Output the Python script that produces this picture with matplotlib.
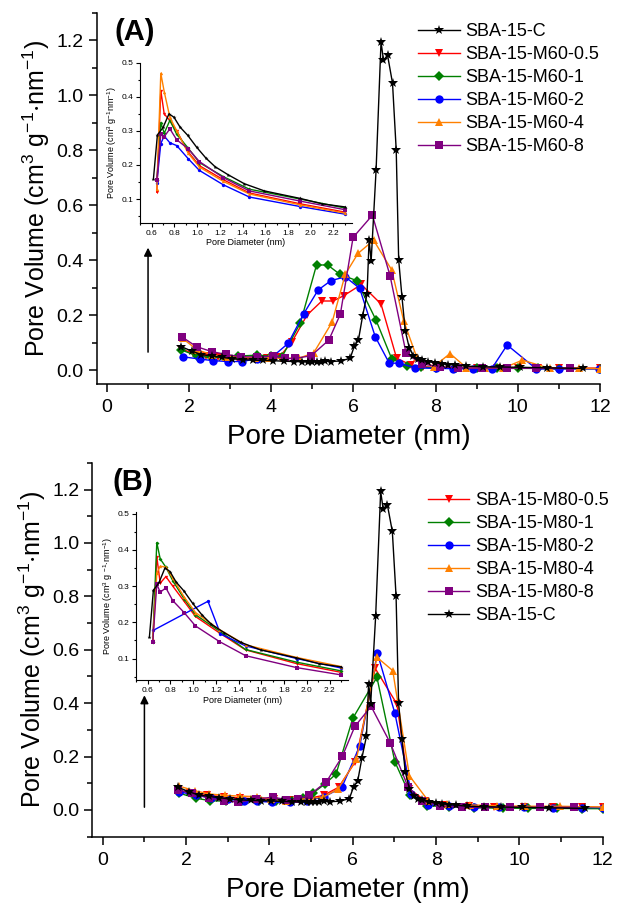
import matplotlib

matplotlib.use("Agg")
import matplotlib.pyplot as plt
from matplotlib.ticker import MultipleLocator

plt.rcParams["font.family"] = ["Liberation Sans", "DejaVu Sans"]
plt.rcParams["mathtext.default"] = "regular"

# ---- panel (A): main curves -------------------------------------------------
C_X = [1.81, 2.06, 2.3, 2.55, 2.8, 3.05, 3.3, 3.55, 3.8, 4.05, 4.3, 4.55, 4.75,
       4.9, 5.0, 5.1, 5.2, 5.3, 5.45, 5.7, 5.92, 6.02, 6.12, 6.22, 6.33, 6.38,
       6.43, 6.55, 6.67, 6.73, 6.83, 6.95, 7.04, 7.10, 7.18, 7.26, 7.36, 7.46,
       7.56, 7.66, 7.82, 7.99, 8.15, 8.31, 8.47, 8.75, 9.15, 9.56, 10.05, 10.7,
       11.58]
C_Y = [0.085, 0.069, 0.056, 0.051, 0.046, 0.041, 0.038, 0.036, 0.035, 0.034,
       0.032, 0.031, 0.03, 0.03, 0.029, 0.03, 0.031, 0.032, 0.031, 0.033, 0.043,
       0.087, 0.109, 0.195, 0.277, 0.473, 0.397, 0.727, 1.193, 1.127, 1.144,
       1.043, 0.80, 0.40, 0.266, 0.143, 0.079, 0.051, 0.041, 0.037, 0.031, 0.026,
       0.023, 0.02, 0.018, 0.014, 0.012, 0.011, 0.01, 0.008, 0.006]

A_05_X = [1.8, 2.1, 2.4, 2.7, 3.0, 3.3, 3.6, 3.9, 4.2, 4.5, 4.87, 5.23, 5.5,
          5.76, 6.19, 6.67, 7.05, 7.4, 7.7, 8.0, 8.5, 9.0, 9.5, 10.0, 10.5,
          11.0, 12.0]
A_05_Y = [0.077, 0.061, 0.051, 0.046, 0.041, 0.041, 0.041, 0.043, 0.048, 0.102,
          0.2, 0.251, 0.251, 0.27, 0.311, 0.24, 0.043, 0.018, 0.012, 0.01,
          0.009, 0.008, 0.008, 0.008, 0.008, 0.007, 0.007]

A_1_X = [1.81, 2.2, 2.52, 2.85, 3.2, 3.66, 4.0, 4.26, 4.71, 5.1, 5.37, 5.67,
         6.08, 6.55, 6.93, 7.3, 7.65, 8.0, 8.5, 9.0, 9.5, 10.0, 10.5, 11.0, 12.0]
A_1_Y = [0.073, 0.051, 0.046, 0.046, 0.051, 0.054, 0.051, 0.048, 0.172, 0.382,
         0.382, 0.348, 0.325, 0.181, 0.041, 0.014, 0.01, 0.008, 0.007, 0.007,
         0.006, 0.006, 0.006, 0.005, 0.005]

A_2_X = [1.85, 2.26, 2.58, 2.95, 3.29, 3.65, 4.05, 4.41, 4.79, 5.14, 5.45, 5.8,
         6.15, 6.53, 6.87, 7.1, 7.5, 8.0, 8.43, 8.9, 9.36, 9.74, 10.45, 11.0,
         11.97]
A_2_Y = [0.048, 0.04, 0.034, 0.031, 0.031, 0.041, 0.051, 0.097, 0.205, 0.291,
         0.325, 0.339, 0.297, 0.121, 0.025, 0.025, 0.008, 0.006, 0.005, 0.004,
         0.004, 0.091, 0.004, 0.004, 0.004]

A_4_X = [1.84, 2.2, 2.55, 2.9, 3.25, 3.6, 3.95, 4.3, 4.67, 5.03, 5.48, 5.8,
         6.11, 6.49, 6.93, 7.22, 7.54, 7.95, 8.35, 8.75, 9.2, 9.65, 10.11,
         10.78, 11.5, 12.0]
A_4_Y = [0.115, 0.073, 0.056, 0.049, 0.046, 0.044, 0.043, 0.043, 0.043, 0.062,
         0.174, 0.348, 0.424, 0.472, 0.364, 0.18, 0.046, 0.012, 0.06, 0.008,
         0.007, 0.007, 0.036, 0.006, 0.006, 0.005]

A_8_X = [1.82, 2.18, 2.55, 2.89, 3.27, 3.66, 4.05, 4.33, 4.57, 4.97, 5.4, 5.68,
         5.99, 6.46, 6.89, 7.28, 7.66, 8.1, 8.55, 9.12, 9.73, 10.45, 11.26]
A_8_Y = [0.121, 0.085, 0.067, 0.057, 0.048, 0.048, 0.051, 0.042, 0.042, 0.052,
         0.109, 0.203, 0.482, 0.563, 0.343, 0.061, 0.022, 0.012, 0.008, 0.007,
         0.007, 0.006, 0.006]

# ---- panel (A): inset (micropore region) ------------------------------------
C_IN_X = [0.615, 0.65, 0.70, 0.752, 0.796, 0.85, 0.917, 0.996, 1.078, 1.158,
          1.275, 1.416, 1.592, 1.907, 2.103, 2.303]
C_IN_Y = [0.159, 0.288, 0.31, 0.35, 0.34, 0.311, 0.287, 0.252, 0.22, 0.195,
          0.171, 0.145, 0.124, 0.102, 0.086, 0.077]
IN_X = [0.645, 0.68, 0.71, 0.76, 0.82, 0.92, 1.02, 1.23, 1.46, 1.91, 2.3]
A_05_IN = [0.12, 0.418, 0.35, 0.33, 0.30, 0.239, 0.198, 0.157, 0.118, 0.086, 0.062]
A_1_IN = [0.155, 0.324, 0.293, 0.331, 0.29, 0.25, 0.207, 0.166, 0.129, 0.1, 0.074]
A_2_IN = [0.148, 0.263, 0.285, 0.265, 0.257, 0.219, 0.184, 0.142, 0.106, 0.078, 0.056]
A_4_IN = [0.13, 0.469, 0.415, 0.34, 0.30, 0.235, 0.194, 0.152, 0.115, 0.083, 0.059]
A_8_IN = [0.155, 0.29, 0.283, 0.306, 0.274, 0.248, 0.21, 0.163, 0.124, 0.094, 0.069]

# ---- panel (B): main curves -------------------------------------------------
B_05_X = [1.8, 2.1, 2.5, 2.9, 3.3, 3.7, 4.1, 4.5, 4.9, 5.3, 5.66, 6.06, 6.54,
          7.06, 7.35, 7.74, 8.2, 8.8, 9.4, 10.1, 10.8, 11.5, 12.0]
B_05_Y = [0.075, 0.063, 0.055, 0.05, 0.045, 0.042, 0.04, 0.038, 0.042, 0.055,
          0.085, 0.18, 0.53, 0.397, 0.08, 0.035, 0.02, 0.015, 0.012, 0.012,
          0.011, 0.011, 0.01]

B_1_X = [1.84, 2.24, 2.57, 2.95, 3.35, 3.75, 4.15, 4.55, 4.8, 5.05, 5.33, 5.6,
         6.0, 6.58, 7.01, 7.37, 7.77, 8.3, 8.9, 9.6, 10.2, 10.9, 11.5, 12.0]
B_1_Y = [0.063, 0.044, 0.035, 0.033, 0.032, 0.033, 0.032, 0.035, 0.045, 0.064,
         0.097, 0.135, 0.343, 0.497, 0.181, 0.056, 0.016, 0.012, 0.008, 0.007,
         0.006, 0.006, 0.005, 0.005]

B_2_X = [1.84, 2.24, 2.6, 3.0, 3.4, 3.7, 4.06, 4.5, 4.9, 5.3, 5.74, 6.17, 6.59,
         7.01, 7.41, 7.8, 8.3, 8.9, 9.5, 10.1, 10.8, 11.5, 12.0]
B_2_Y = [0.068, 0.055, 0.045, 0.04, 0.035, 0.033, 0.029, 0.03, 0.035, 0.048,
         0.085, 0.241, 0.588, 0.363, 0.06, 0.02, 0.015, 0.012, 0.01, 0.01,
         0.009, 0.009, 0.009]

B_4_X = [1.84, 2.21, 2.56, 2.93, 3.3, 3.71, 4.05, 4.4, 4.7, 5.01, 5.29, 5.65,
         6.09, 6.58, 6.96, 7.36, 7.81, 8.26, 8.81, 9.46, 10.13, 10.97, 12.0]
B_4_Y = [0.089, 0.072, 0.06, 0.055, 0.052, 0.05, 0.04, 0.035, 0.04, 0.044,
         0.048, 0.079, 0.191, 0.572, 0.522, 0.128, 0.035, 0.022, 0.019, 0.016,
         0.014, 0.014, 0.011]

B_8_X = [1.8, 2.15, 2.56, 2.91, 3.25, 3.68, 4.08, 4.4, 4.69, 4.96, 5.37, 5.75,
         6.05, 6.44, 6.9, 7.33, 7.66, 8.1, 8.62, 9.17, 9.77, 10.5, 11.3]
B_8_Y = [0.075, 0.063, 0.044, 0.035, 0.029, 0.041, 0.048, 0.039, 0.041, 0.056,
         0.106, 0.201, 0.313, 0.388, 0.251, 0.085, 0.035, 0.016, 0.01, 0.01,
         0.01, 0.01, 0.01]

# ---- panel (B): inset -------------------------------------------------------
B_05_IN = [0.149, 0.381, 0.308, 0.326, 0.3, 0.258, 0.216, 0.171, 0.124, 0.086, 0.062]
B_1_IN = [0.147, 0.42, 0.375, 0.352, 0.315, 0.265, 0.221, 0.176, 0.125, 0.09, 0.066]
B_4_IN = [0.152, 0.335, 0.355, 0.352, 0.322, 0.27, 0.227, 0.18, 0.138, 0.103, 0.078]
B_8_IN = [0.147, 0.305, 0.283, 0.295, 0.26, 0.227, 0.19, 0.147, 0.108, 0.075, 0.055]
B_2_IN_X = [0.65, 1.13, 1.24, 1.46, 1.91, 2.3]
B_2_IN = [0.178, 0.258, 0.168, 0.135, 0.1, 0.074]

RED, GREEN, BLUE, ORANGE, PURPLE = "#ff0000", "#008000", "#0000ff", "#ff8000", "#800080"
STYLE = {
    "C": ("black", "*", 7.5),
    "0.5": (RED, "v", 6),
    "1": (GREEN, "D", 5),
    "2": (BLUE, "o", 6),
    "4": (ORANGE, "^", 6),
    "8": (PURPLE, "s", 5.5),
}

YLABEL = r"Pore Volume (cm$^3$ g$^{-1}$$\cdot$nm$^{-1}$)"
ARROW_X = 1.0


def style_main(ax, ylim):
    ax.set_xlim(-0.25, 12.0)
    ax.set_ylim(*ylim)
    for side in ("top", "right"):
        ax.spines[side].set_visible(False)
    for side in ("left", "bottom"):
        ax.spines[side].set_linewidth(1.1)
    ax.xaxis.set_major_locator(MultipleLocator(2))
    ax.xaxis.set_minor_locator(MultipleLocator(1))
    ax.yaxis.set_major_locator(MultipleLocator(0.2))
    ax.yaxis.set_minor_locator(MultipleLocator(0.1))
    ax.tick_params(which="both", direction="out", width=1.1, labelsize=14)
    ax.tick_params(axis="x", pad=5)
    ax.tick_params(which="major", length=6)
    ax.tick_params(which="minor", length=3.5)
    ax.set_xticks(range(0, 13, 2))
    ax.set_yticks([0.0, 0.2, 0.4, 0.6, 0.8, 1.0, 1.2])
    ax.set_yticklabels([f"{v:.1f}" for v in ax.get_yticks()])
    ax.set_xlabel("Pore Diameter (nm)", fontsize=20, labelpad=6)
    ax.set_ylabel(YLABEL, fontsize=18, labelpad=3)


def style_inset(ax, ylim, ylabel):
    ax.set_xlim(0.5, 2.36)
    ax.set_ylim(*ylim)
    ax.set_facecolor("none")
    for side in ("top", "right"):
        ax.spines[side].set_visible(False)
    ax.xaxis.set_major_locator(MultipleLocator(0.2))
    ax.xaxis.set_minor_locator(MultipleLocator(0.1))
    ax.yaxis.set_major_locator(MultipleLocator(0.1))
    ax.yaxis.set_minor_locator(MultipleLocator(0.05))
    ax.tick_params(which="both", direction="out", width=0.8, labelsize=6, pad=2)
    ax.tick_params(which="major", length=3)
    ax.tick_params(which="minor", length=1.5)
    ax.set_xticks([0.6, 0.8, 1.0, 1.2, 1.4, 1.6, 1.8, 2.0, 2.2])
    ax.set_xlabel("Pore Diameter (nm)", fontsize=6.5, labelpad=1)
    ax.set_ylabel(ylabel, fontsize=6.5, labelpad=2)


def plot_series(ax, x, y, key, ms_scale=1.0, lw=1.0):
    color, marker, ms = STYLE[key]
    return ax.plot(x, y, color=color, marker=marker, ms=ms * ms_scale, lw=lw,
                   markeredgewidth=0)[0]


fig = plt.figure(figsize=(6.23, 9.06), dpi=100)

# ----------------------------- panel A ---------------------------------------
ax_a = fig.add_axes([0.1552, 0.5764, 0.8079, 0.4098])
h = {}
h["0.5"] = plot_series(ax_a, A_05_X, A_05_Y, "0.5")
h["1"] = plot_series(ax_a, A_1_X, A_1_Y, "1")
h["2"] = plot_series(ax_a, A_2_X, A_2_Y, "2")
h["4"] = plot_series(ax_a, A_4_X, A_4_Y, "4")
h["8"] = plot_series(ax_a, A_8_X, A_8_Y, "8")
h["C"] = plot_series(ax_a, C_X, C_Y, "C")
style_main(ax_a, (-0.05, 1.3))
ax_a.annotate("", xy=(ARROW_X, 0.455), xytext=(ARROW_X, 0.055),
              arrowprops=dict(arrowstyle="-|>", color="black", lw=1.1,
                              mutation_scale=12))
ax_a.text(0.035, 0.985, "(A)", transform=ax_a.transAxes, fontsize=21,
          fontweight="bold", ha="left", va="top")
order = ["C", "0.5", "1", "2", "4", "8"]
ax_a.legend([h[k] for k in order],
            ["SBA-15-C"] + [f"SBA-15-M60-{k}" for k in order[1:]],
            loc="upper left", bbox_to_anchor=(0.617, 1.0), frameon=False,
            fontsize=13, handlelength=2.3, handletextpad=0.3, labelspacing=0.33,
            numpoints=1, borderaxespad=0.2)

ins_a = fig.add_axes([0.2253, 0.7539, 0.339, 0.1769])
plot_series(ins_a, IN_X, A_05_IN, "0.5", 0.4)
plot_series(ins_a, IN_X, A_1_IN, "1", 0.4)
plot_series(ins_a, IN_X, A_2_IN, "2", 0.4)
plot_series(ins_a, IN_X, A_4_IN, "4", 0.4)
plot_series(ins_a, IN_X, A_8_IN, "8", 0.4)
plot_series(ins_a, C_IN_X, C_IN_Y, "C", 0.4)
style_inset(ins_a, (0.03, 0.5), r"Pore Volume (cm$^3$ g$^{-1}$nm$^{-1}$)")

# ----------------------------- panel B ---------------------------------------
ax_b = fig.add_axes([0.1482, 0.0765, 0.8193, 0.4126])
g = {}
g["0.5"] = plot_series(ax_b, B_05_X, B_05_Y, "0.5")
g["1"] = plot_series(ax_b, B_1_X, B_1_Y, "1")
g["2"] = plot_series(ax_b, B_2_X, B_2_Y, "2")
g["4"] = plot_series(ax_b, B_4_X, B_4_Y, "4")
g["8"] = plot_series(ax_b, B_8_X, B_8_Y, "8")
g["C"] = plot_series(ax_b, C_X, C_Y, "C")
style_main(ax_b, (-0.1, 1.3))
ax_b.annotate("", xy=(ARROW_X, 0.44), xytext=(ARROW_X, 0.0),
              arrowprops=dict(arrowstyle="-|>", color="black", lw=1.1,
                              mutation_scale=12))
ax_b.text(0.04, 0.985, "(B)", transform=ax_b.transAxes, fontsize=21,
          fontweight="bold", ha="left", va="top")
order_b = ["0.5", "1", "2", "4", "8", "C"]
ax_b.legend([g[k] for k in order_b],
            [f"SBA-15-M80-{k}" for k in order_b[:-1]] + ["SBA-15-C"],
            loc="upper left", bbox_to_anchor=(0.636, 0.95), frameon=False,
            fontsize=13, handlelength=2.3, handletextpad=0.3, labelspacing=0.33,
            numpoints=1, borderaxespad=0.2)

ins_b = fig.add_axes([0.2188, 0.2491, 0.3396, 0.1861])
plot_series(ins_b, IN_X, B_05_IN, "0.5", 0.4)
plot_series(ins_b, IN_X, B_1_IN, "1", 0.4)
plot_series(ins_b, B_2_IN_X, B_2_IN, "2", 0.4)
plot_series(ins_b, IN_X, B_4_IN, "4", 0.4)
plot_series(ins_b, IN_X, B_8_IN, "8", 0.4)
plot_series(ins_b, C_IN_X, C_IN_Y, "C", 0.4)
style_inset(ins_b, (0.04, 0.505), r"Pore Volume (cm$^3$ g $^{-1}$$\cdot$nm$^{-1}$)")

fig.savefig("out.png", dpi=100)
